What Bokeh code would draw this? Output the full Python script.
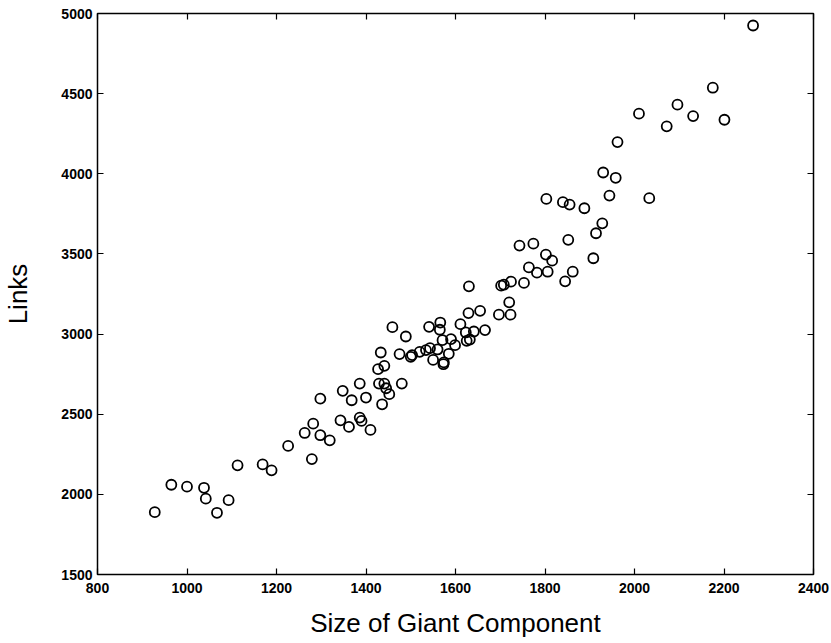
from bokeh.plotting import figure
from bokeh.models import LinearAxis, FixedTicker, Range1d, ColumnDataSource, CustomLabelingPolicy
from bokeh.embed import file_html
from bokeh.resources import INLINE

giant_size = [928, 965, 1000, 1038, 1042, 1067, 1093, 1113, 1169, 1189, 1226,
              1263, 1279, 1282, 1298, 1298, 1319, 1348, 1368, 1343, 1362,
              1386, 1400, 1386, 1390, 1410, 1427, 1441, 1433, 1429, 1441,
              1445, 1452, 1436, 1459, 1480, 1475, 1489, 1500, 1503, 1520,
              1534, 1543, 1541, 1560, 1550, 1566, 1565, 1571, 1573, 1574,
              1590, 1585, 1599, 1611, 1623, 1625, 1632, 1629, 1641, 1655,
              1666, 1630, 1697, 1720, 1723, 1702, 1708, 1724, 1753, 1764,
              1782, 1806, 1802, 1816, 1930, 1958, 1944, 2033, 1803, 1840,
              1855, 1888, 1928, 1914, 1852, 1908, 1743, 1774, 1862, 1845,
              2265, 2175, 2096, 2131, 2010, 2072, 2201, 1962]
links = [1889, 2060, 2048, 2041, 1973, 1885, 1964, 2181, 2187, 2150, 2302,
         2383, 2220, 2441, 2597, 2369, 2337, 2646, 2587, 2462, 2421,
         2691, 2604, 2479, 2458, 2402, 2781, 2802, 2885, 2691, 2691,
         2662, 2625, 2562, 3043, 2691, 2875, 2985, 2858, 2869, 2889,
         2900, 2912, 3045, 2904, 2839, 3072, 3027, 2962, 2812, 2823,
         2968, 2877, 2931, 3062, 3010, 2958, 2966, 3131, 3016, 3145,
         3025, 3298, 3121, 3198, 3121, 3302, 3308, 3327, 3319, 3416,
         3383, 3389, 3496, 3458, 4008, 3975, 3864, 3848, 3843, 3823,
         3808, 3785, 3691, 3629, 3588, 3473, 3552, 3564, 3389, 3329,
         4925, 4537, 4431, 4360, 4375, 4296, 4337, 4198]

x_ticks = [800, 1000, 1200, 1400, 1600, 1800, 2000, 2200, 2400]
y_ticks = [1500, 2000, 2500, 3000, 3500, 4000, 4500, 5000]
x_title = "Size of Giant Component"
y_title = "Links"

src = ColumnDataSource(dict(x=giant_size, y=links))

p = figure(width=831, height=643, output_backend="svg", toolbar_location=None,
           x_range=Range1d(800, 2400), y_range=Range1d(1500, 5000),
           x_axis_location=None, y_axis_location=None,
           min_border_left=97, min_border_right=18, min_border_top=13,
           min_border_bottom=69)
p.background_fill_color = "white"
p.border_fill_color = "white"
p.outline_line_color = "black"
p.outline_line_width = 1.5
p.xgrid.visible = False
p.ygrid.visible = False

font = "Liberation Sans"

def style(ax, size="14px"):
    ax.major_tick_in = 6
    ax.major_tick_out = 0
    ax.minor_tick_line_color = None
    ax.axis_line_color = None
    ax.major_tick_line_color = "black"
    ax.major_tick_line_width = 1.2
    ax.major_label_text_font = font
    ax.major_label_text_font_style = "bold"
    ax.major_label_text_font_size = size
    ax.major_label_text_color = "black"
    ax.axis_label_text_font = font
    ax.axis_label_text_font_style = "normal"
    ax.axis_label_text_font_size = "26px"
    ax.axis_label_text_color = "black"

xb = LinearAxis(ticker=FixedTicker(ticks=x_ticks), axis_label=x_title)
style(xb)
xb.major_label_standoff = 8
xb.axis_label_standoff = 12
p.add_layout(xb, "below")

yl = LinearAxis(ticker=FixedTicker(ticks=y_ticks), axis_label=y_title)
style(yl)
yl.major_label_standoff = 5
yl.axis_label_standoff = 25
p.add_layout(yl, "left")

xt = LinearAxis(ticker=FixedTicker(ticks=x_ticks))
style(xt, "0px")
xt.major_label_policy = CustomLabelingPolicy(code="return []")
xt.major_label_standoff = 0
p.add_layout(xt, "above")

yr = LinearAxis(ticker=FixedTicker(ticks=y_ticks))
style(yr, "0px")
yr.major_label_policy = CustomLabelingPolicy(code="return []")
yr.major_label_standoff = 0
p.add_layout(yr, "right")

p.scatter("x", "y", source=src, marker="circle", size=10,
          fill_color=None, line_color="black", line_width=1.8)

open("out.html", "w").write(file_html(p, INLINE))
